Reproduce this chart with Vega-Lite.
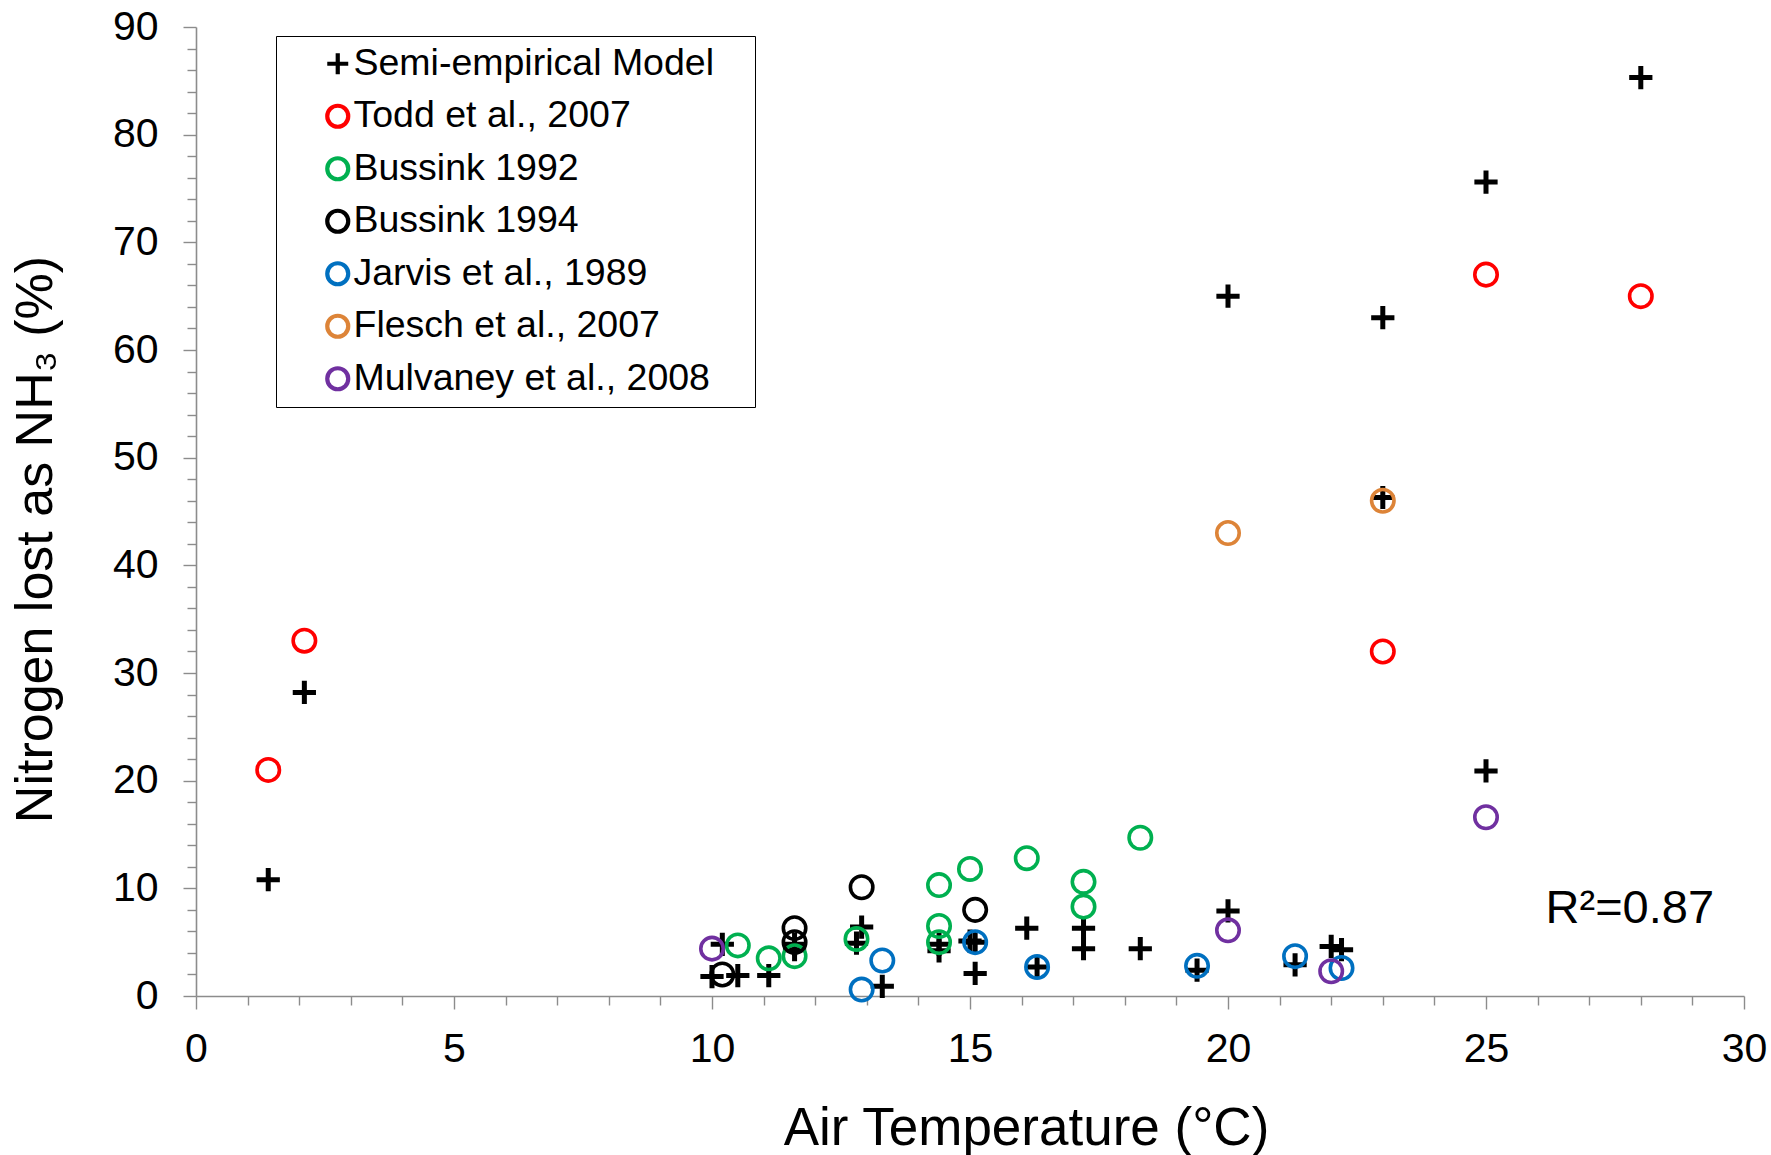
{
  "$schema": "https://vega.github.io/schema/vega-lite/v6.json",
  "width": 1548,
  "height": 969,
  "autosize": {"type": "none"},
  "padding": {"left": 196, "top": 27, "right": 27, "bottom": 159},
  "background": "white",
  "config": {
    "view": {"stroke": null},
    "font": "Liberation Sans",
    "axis": {
      "grid": false,
      "domainColor": "#8c8c8c",
      "domainWidth": 1.6,
      "tickColor": "#8c8c8c",
      "tickWidth": 1.4,
      "labelColor": "black",
      "titleColor": "black",
      "labelFont": "Liberation Sans",
      "titleFont": "Liberation Sans",
      "titleFontWeight": "normal",
      "labelOverlap": false,
      "labelFlush": false
    }
  },
  "datasets": {
    "points": [
      {"series": "Semi-empirical Model", "T": 1.4, "N": 10.8},
      {"series": "Semi-empirical Model", "T": 2.1, "N": 28.2},
      {"series": "Semi-empirical Model", "T": 10.0, "N": 1.8},
      {"series": "Semi-empirical Model", "T": 10.2, "N": 4.8},
      {"series": "Semi-empirical Model", "T": 10.5, "N": 1.9},
      {"series": "Semi-empirical Model", "T": 11.1, "N": 1.9},
      {"series": "Semi-empirical Model", "T": 11.6, "N": 4.8},
      {"series": "Semi-empirical Model", "T": 11.6, "N": 4.3},
      {"series": "Semi-empirical Model", "T": 12.9, "N": 6.4},
      {"series": "Semi-empirical Model", "T": 12.8, "N": 4.9},
      {"series": "Semi-empirical Model", "T": 13.3, "N": 0.9},
      {"series": "Semi-empirical Model", "T": 14.4, "N": 4.8},
      {"series": "Semi-empirical Model", "T": 14.4, "N": 4.2},
      {"series": "Semi-empirical Model", "T": 15.0, "N": 5.1},
      {"series": "Semi-empirical Model", "T": 15.1, "N": 5.0},
      {"series": "Semi-empirical Model", "T": 15.1, "N": 2.1},
      {"series": "Semi-empirical Model", "T": 16.1, "N": 6.3},
      {"series": "Semi-empirical Model", "T": 16.3, "N": 2.7},
      {"series": "Semi-empirical Model", "T": 17.2, "N": 6.3},
      {"series": "Semi-empirical Model", "T": 17.2, "N": 4.4},
      {"series": "Semi-empirical Model", "T": 18.3, "N": 4.4},
      {"series": "Semi-empirical Model", "T": 19.4, "N": 2.4},
      {"series": "Semi-empirical Model", "T": 20.0, "N": 7.9},
      {"series": "Semi-empirical Model", "T": 20.0, "N": 65.0},
      {"series": "Semi-empirical Model", "T": 21.3, "N": 2.9},
      {"series": "Semi-empirical Model", "T": 22.0, "N": 4.6},
      {"series": "Semi-empirical Model", "T": 22.2, "N": 4.3},
      {"series": "Semi-empirical Model", "T": 23.0, "N": 63.0},
      {"series": "Semi-empirical Model", "T": 23.0, "N": 46.3},
      {"series": "Semi-empirical Model", "T": 25.0, "N": 75.6},
      {"series": "Semi-empirical Model", "T": 25.0, "N": 20.9},
      {"series": "Semi-empirical Model", "T": 28.0, "N": 85.3},
      {"series": "Todd et al., 2007", "T": 1.4, "N": 21.0},
      {"series": "Todd et al., 2007", "T": 2.1, "N": 33.0},
      {"series": "Todd et al., 2007", "T": 23.0, "N": 32.0},
      {"series": "Todd et al., 2007", "T": 25.0, "N": 67.0},
      {"series": "Todd et al., 2007", "T": 28.0, "N": 65.0},
      {"series": "Bussink 1992", "T": 10.5, "N": 4.7},
      {"series": "Bussink 1992", "T": 11.1, "N": 3.5},
      {"series": "Bussink 1992", "T": 11.6, "N": 3.7},
      {"series": "Bussink 1992", "T": 12.8, "N": 5.3},
      {"series": "Bussink 1992", "T": 14.4, "N": 10.3},
      {"series": "Bussink 1992", "T": 14.4, "N": 6.5},
      {"series": "Bussink 1992", "T": 14.4, "N": 5.0},
      {"series": "Bussink 1992", "T": 15.0, "N": 11.8},
      {"series": "Bussink 1992", "T": 16.1, "N": 12.8},
      {"series": "Bussink 1992", "T": 17.2, "N": 10.6},
      {"series": "Bussink 1992", "T": 17.2, "N": 8.3},
      {"series": "Bussink 1992", "T": 18.3, "N": 14.7},
      {"series": "Bussink 1994", "T": 10.2, "N": 2.0},
      {"series": "Bussink 1994", "T": 11.6, "N": 6.3},
      {"series": "Bussink 1994", "T": 11.6, "N": 5.0},
      {"series": "Bussink 1994", "T": 12.9, "N": 10.1},
      {"series": "Bussink 1994", "T": 15.1, "N": 8.0},
      {"series": "Jarvis et al., 1989", "T": 12.9, "N": 0.6},
      {"series": "Jarvis et al., 1989", "T": 13.3, "N": 3.3},
      {"series": "Jarvis et al., 1989", "T": 15.1, "N": 5.0},
      {"series": "Jarvis et al., 1989", "T": 16.3, "N": 2.7},
      {"series": "Jarvis et al., 1989", "T": 19.4, "N": 2.8},
      {"series": "Jarvis et al., 1989", "T": 21.3, "N": 3.7},
      {"series": "Jarvis et al., 1989", "T": 22.2, "N": 2.6},
      {"series": "Flesch et al., 2007", "T": 20.0, "N": 43.0},
      {"series": "Flesch et al., 2007", "T": 23.0, "N": 46.0},
      {"series": "Mulvaney et al., 2008", "T": 10.0, "N": 4.4},
      {"series": "Mulvaney et al., 2008", "T": 20.0, "N": 6.1},
      {"series": "Mulvaney et al., 2008", "T": 22.0, "N": 2.3},
      {"series": "Mulvaney et al., 2008", "T": 25.0, "N": 16.6}
    ],
    "notes": [
      {"label": "R²=0.87", "T": 29.42, "N": 6.8}
    ]
  },
  "layer": [
    {
      "data": {"name": "points"},
      "encoding": {
        "x": {
          "field": "T", "type": "quantitative",
          "scale": {"domain": [0, 30], "nice": false, "zero": false},
          "axis": {
            "title": "Air Temperature (°C)",
            "tickCount": 30,
            "labelExpr": "datum.value % 5 === 0 ? datum.label : ''",
            "tickSize": {"condition": {"test": "datum.value % 5 === 0", "value": 13}, "value": 9},
            "labelPadding": 20,
            "labelFontSize": 41,
            "titleFontSize": 53,
            "titleX": 830,
            "titleY": 148,
            "titleBaseline": "alphabetic"
          }
        },
        "y": {
          "field": "N", "type": "quantitative",
          "scale": {"domain": [0, 90], "nice": false, "zero": false},
          "axis": {
            "title": "Nitrogen lost as NH₃ (%)",
            "tickCount": 45,
            "labelExpr": "datum.value % 10 === 0 ? datum.label : ''",
            "tickSize": {"condition": {"test": "datum.value % 10 === 0", "value": 13}, "value": 9},
            "labelPadding": 25,
            "labelFontSize": 41,
            "titleFontSize": 52,
            "titleX": -134,
            "titleY": 512
          }
        },
        "color": {
          "field": "series", "type": "nominal",
          "scale": {
            "domain": ["Semi-empirical Model", "Todd et al., 2007", "Bussink 1992", "Bussink 1994", "Jarvis et al., 1989", "Flesch et al., 2007", "Mulvaney et al., 2008"],
            "range": ["#000000", "#FF0000", "#00B050", "#000000", "#0070C0", "#DD8438", "#7030A0"]
          },
          "legend": {
            "title": null,
            "orient": "none",
            "legendX": 80,
            "legendY": 9,
            "padding": 9,
            "strokeColor": "black",
            "fillColor": "white",
            "labelFont": "Liberation Sans",
            "labelFontSize": 37.5,
            "labelColor": "black",
            "labelLimit": 900,
            "labelOffset": -3,
            "symbolOffset": 34,
            "symbolSize": 440,
            "symbolStrokeWidth": 4.2,
            "rowPadding": 13.5,
            "labelExpr": "datum.label + '   \u200b'",
            "encode": {
              "legend": {
                "update": {"strokeWidth": {"value": 1.6}}
              }
            }
          }
        },
        "shape": {
          "field": "series", "type": "nominal",
          "scale": {
            "domain": ["Semi-empirical Model", "Todd et al., 2007", "Bussink 1992", "Bussink 1994", "Jarvis et al., 1989", "Flesch et al., 2007", "Mulvaney et al., 2008"],
            "range": ["M-1,0H1M0,-1V1", "circle", "circle", "circle", "circle", "circle", "circle"]
          }
        }
      },
      "layer": [
        {
          "transform": [{"filter": "datum.series === 'Semi-empirical Model'"}],
          "mark": {"type": "point", "filled": false, "strokeWidth": 5, "size": 540, "opacity": 1}
        },
        {
          "transform": [{"filter": "datum.series !== 'Semi-empirical Model'"}],
          "mark": {"type": "point", "filled": false, "strokeWidth": 3.6, "size": 503, "opacity": 1}
        }
      ]
    },
    {
      "data": {"name": "notes"},
      "mark": {"type": "text", "align": "right", "baseline": "alphabetic", "fontSize": 47, "font": "Liberation Sans", "color": "black"},
      "encoding": {
        "x": {"field": "T", "type": "quantitative"},
        "y": {"field": "N", "type": "quantitative"},
        "text": {"field": "label"}
      }
    }
  ]
}
